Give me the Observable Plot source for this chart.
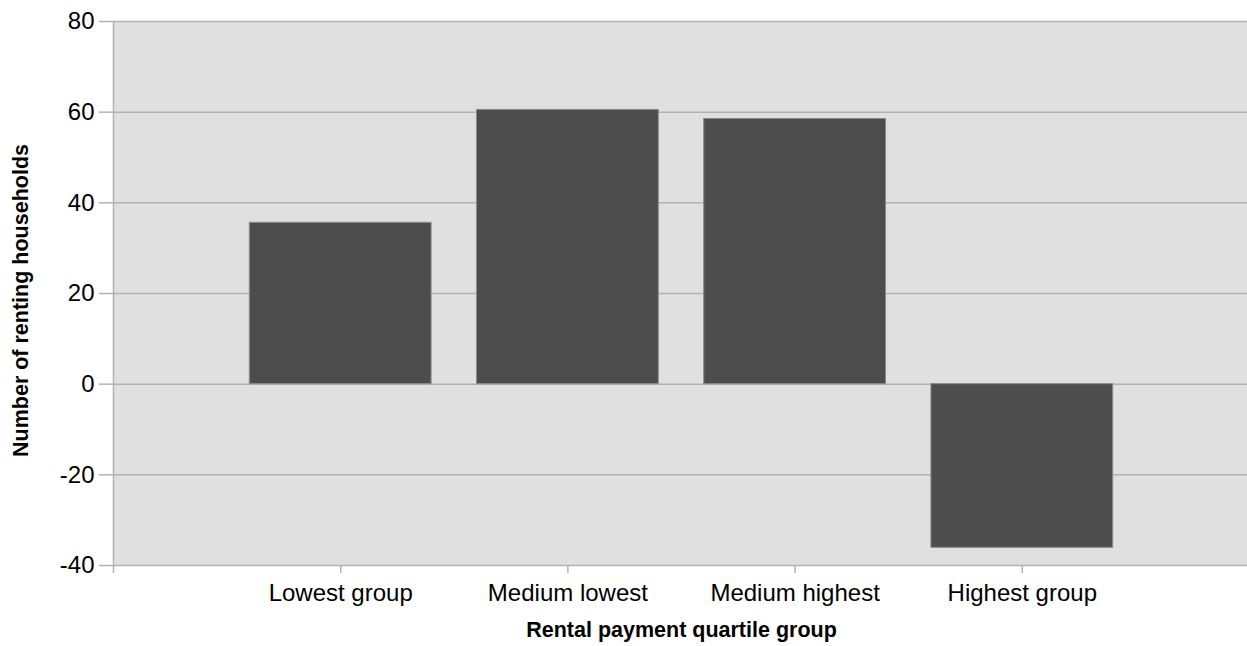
<!DOCTYPE html>
<html>
<head>
<meta charset="utf-8">
<script src="https://cdn.jsdelivr.net/npm/d3@7"></script>
<script src="https://cdn.jsdelivr.net/npm/@observablehq/plot@0.6"></script>
<style>
  html, body { margin: 0; padding: 0; background: #fff; }
  #chart svg { display: block; }
</style>
</head>
<body>
<div id="chart"></div>
<script>
const categories = ["Lowest group", "Medium lowest", "Medium highest", "Highest group"];
const values = [35.6, 60.5, 58.5, -36.1];
const yTicks = [-40, -20, 0, 20, 40, 60, 80];
const xTicks = [0, 1, 2, 3, 4];
const xTitle = "Rental payment quartile group";
const yTitle = "Number of renting households";

const data = categories.map((c, i) => ({category: c, pos: i + 1, value: values[i]}));
const half = 0.4;

const chart = Plot.plot({
  width: 1247,
  height: 646,
  marginLeft: 113,
  marginRight: -2,
  marginTop: 21,
  marginBottom: 81,
  style: {fontFamily: "'Liberation Sans', Arial, sans-serif", fontSize: "24px", background: "#fff", color: "#000"},
  x: {type: "linear", domain: [0, 5]},
  y: {domain: [-40, 80]},
  marks: [
    Plot.frame({fill: "#e0e0e0", stroke: null}),
    Plot.gridY(yTicks, {stroke: "#b2b2b2", strokeOpacity: 1, strokeWidth: 1.5}),
    Plot.ruleX([0], {stroke: "#b2b2b2", strokeWidth: 1.5}),
    Plot.rectY(data, {x1: d => d.pos - half, x2: d => d.pos + half, y1: 0, y2: "value", fill: "#4d4d4d", stroke: "#8a8a8a", strokeWidth: 1}),
    Plot.axisY({ticks: yTicks, tickFormat: d => `${d}`, tickSize: 14, tickPadding: 5, stroke: "#b2b2b2", strokeWidth: 1.5, fill: "#000", label: null, fontSize: 24}),
    Plot.axisX({ticks: xTicks, tickFormat: i => i === 0 ? "" : categories[i - 1], tickSize: 8, tickPadding: 10, stroke: "#b2b2b2", strokeWidth: 1.5, fill: "#000", label: null, fontSize: 24}),
    Plot.text([xTitle], {frameAnchor: "bottom", dy: 71, fontWeight: "bold", fontSize: 21.5, fill: "#000"}),
    Plot.text([yTitle], {frameAnchor: "left", textAnchor: "middle", rotate: -90, dx: -92, dy: 7, fontWeight: "bold", fontSize: 21.5, fill: "#000"})
  ]
});
document.getElementById("chart").appendChild(chart);
</script>
</body>
</html>
